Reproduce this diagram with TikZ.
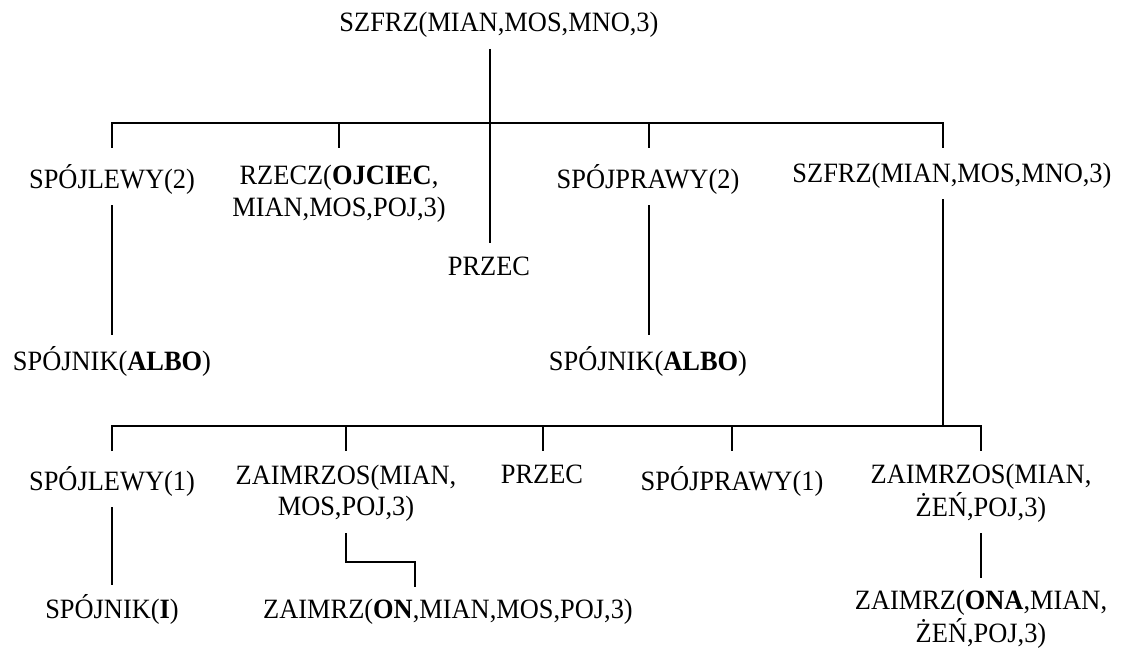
\documentclass[tikz,border=0pt]{standalone}
\usepackage{graphicx}
\usepackage{fontspec}
\setmainfont{Liberation Serif}
% glyphs set a little taller than wide
\newcommand{\tall}[1]{\scalebox{1}[1.06]{#1}}
% two centred lines, the node's base is the first line's baseline
\newcommand{\twolines}[2]{\tall{\begin{tabular}[t]{@{}c@{}}#1\\#2\end{tabular}}}
\begin{document}
\begin{tikzpicture}[x=0.75pt,y=-0.75pt,
  lbl/.style={anchor=base,inner sep=0pt,font=\fontsize{19.8}{22.4}\selectfont},
  conn/.style={line width=1.5pt},
  trunk/.style={line width=2.2pt},
  bus/.style={line width=1.9pt}]
\useasboundingbox (0,0) rectangle (1127,649);

% ---- labels ----
\node[lbl] (root) at (499,32) {\tall{SZFRZ(MIAN,MOS,MNO,3)}};

\node[lbl] (lewy2)  at (112,188) {\tall{SPÓJLEWY(2)}};
\node[lbl] (rzecz)  at (339,185) {\twolines{RZECZ(\textbf{OJCIEC},}{MIAN,MOS,POJ,3)}};
\node[lbl] (przec1) at (489,275) {\tall{PRZEC}};
\node[lbl] (prawy2) at (648,188) {\tall{SPÓJPRAWY(2)}};
\node[lbl] (szfrz)  at (952,182) {\tall{SZFRZ(MIAN,MOS,MNO,3)}};

\node[lbl] (albo1) at (112,370) {\tall{SPÓJNIK(\textbf{ALBO})}};
\node[lbl] (albo2) at (648,370) {\tall{SPÓJNIK(\textbf{ALBO})}};

\node[lbl] (lewy1)  at (112,490) {\tall{SPÓJLEWY(1)}};
\node[lbl] (zos1)   at (346,484) {\twolines{ZAIMRZOS(MIAN,}{MOS,POJ,3)}};
\node[lbl] (przec2) at (542,483) {\tall{PRZEC}};
\node[lbl] (prawy1) at (732,490) {\tall{SPÓJPRAWY(1)}};
\node[lbl] (zos2)   at (981,483) {\twolines{ZAIMRZOS(MIAN,}{ŻEŃ,POJ,3)}};

\node[lbl] (spi) at (112,618) {\tall{SPÓJNIK(\textbf{I})}};
\node[lbl] (on)  at (448,618) {\tall{ZAIMRZ(\textbf{ON},MIAN,MOS,POJ,3)}};
\node[lbl] (ona) at (981,609) {\twolines{ZAIMRZ(\textbf{ONA},MIAN,}{ŻEŃ,POJ,3)}};

% ---- connector end points ----
\coordinate (rootDn)  at (490,49);
\coordinate (przec1Up) at (490,243);
\coordinate (busAL) at (112,123);
\coordinate (busAR) at (943,123);
\coordinate (busArz) at (339,123);
\coordinate (busApr) at (649,123);
\coordinate (lewy2Up) at (112,148);
\coordinate (rzeczUp) at (339,148);
\coordinate (prawy2Up) at (649,148);
\coordinate (szfrzUp) at (943,148);
\coordinate (lewy2Dn) at (112,205);
\coordinate (albo1Up) at (112,335);
\coordinate (prawy2Dn) at (649,205);
\coordinate (albo2Up) at (649,335);
\coordinate (szfrzDn) at (943,199);
\coordinate (busBL) at (112,426);
\coordinate (busBM) at (943,426);
\coordinate (busBR) at (981,426);
\coordinate (lewy1Up) at (112,451);
\coordinate (zos1Up) at (346,451);
\coordinate (przec2Up) at (543,451);
\coordinate (prawy1Up) at (732,451);
\coordinate (zos2Up) at (981,451);
\coordinate (lewy1Dn) at (112,507);
\coordinate (spiUp) at (112,585);
\coordinate (zos1Dn) at (346,533);
\coordinate (onBend) at (415,562);
\coordinate (onUp) at (415,587);
\coordinate (zos2Dn) at (981,533);
\coordinate (onaUp) at (981,578);

% ---- first level ----
\draw[conn] (rootDn) -- (przec1Up);
\draw[conn] (lewy2Up) -- (busAL) -- (busAR) -- (szfrzUp);
\draw[conn] (busArz) -- (rzeczUp);
\draw[conn] (busApr) -- (prawy2Up);
\draw[conn] (lewy2Dn) -- (albo1Up);
\draw[conn] (prawy2Dn) -- (albo2Up);

% ---- second level ----
\draw[trunk] (szfrzDn) -- (busBM);
\draw[bus] (lewy1Up) -- (busBL) -- (busBM);
\draw[conn] (busBM) -- (busBR) -- (zos2Up);
\draw[conn] (zos1Up |- busBL) -- (zos1Up);
\draw[conn] (przec2Up |- busBL) -- (przec2Up);
\draw[conn] (prawy1Up |- busBL) -- (prawy1Up);
\draw[conn] (lewy1Dn) -- (spiUp);
\draw[conn] (zos1Dn) |- (onBend) -- (onUp);
\draw[conn] (zos2Dn) -- (onaUp);
\end{tikzpicture}
\end{document}
